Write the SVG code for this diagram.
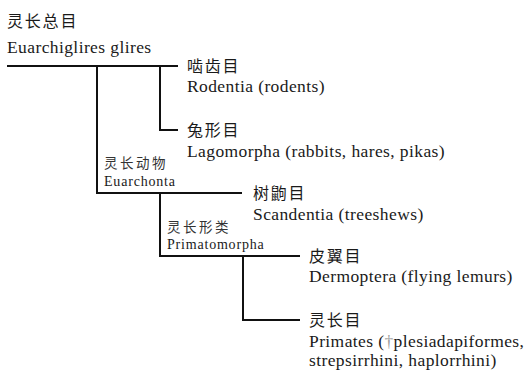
<svg xmlns="http://www.w3.org/2000/svg" width="531" height="380" viewBox="0 0 531 380">
<style>
.t{font-family:"Liberation Serif","Noto Sans CJK SC",serif;font-size:17.5px;letter-spacing:0.4px;fill:#1a1a1a}
.c{font-family:"Noto Sans CJK SC",serif;font-size:16px;letter-spacing:1.8px;fill:#1a1a1a}
.s{font-family:"Liberation Serif","Noto Sans CJK SC",serif;font-size:14px;letter-spacing:0.8px;fill:#1a1a1a}
.sc{font-family:"Noto Sans CJK SC",serif;font-size:13.5px;letter-spacing:2.5px;fill:#333}
.l{stroke:#111;stroke-width:2;fill:none}
</style>
<rect width="531" height="380" fill="#fff"/>
<g id="connectors">
<path class="l" d="M7 66H178M97 66V193H242M160 66V130H178M160 193V256H300M243 256V320H300"/>
</g>
<g id="root"><text class="c" x="7" y="27">灵长总目</text><text class="t" x="7" y="53">Euarchiglires glires</text></g>
<g id="rodentia"><text class="c" x="187" y="72">啮齿目</text><text class="t" x="187" y="92">Rodentia (rodents)</text></g>
<g id="lagomorpha"><text class="c" x="187" y="136">兔形目</text><text class="t" x="187" y="157">Lagomorpha (rabbits, hares, pikas)</text></g>
<g id="euarchonta"><text class="sc" x="104" y="168">灵长动物</text><text class="s" x="104" y="186">Euarchonta</text></g>
<g id="scandentia"><text class="c" x="253" y="199">树鼩目</text><text class="t" x="253" y="220">Scandentia (treeshews)</text></g>
<g id="primatomorpha"><text class="sc" x="167" y="232">灵长形类</text><text class="s" x="167" y="249">Primatomorpha</text></g>
<g id="dermoptera"><text class="c" x="309" y="262">皮翼目</text><text class="t" x="309" y="282">Dermoptera (flying lemurs)</text></g>
<g id="primates"><text class="c" x="309" y="326">灵长目</text><text class="t" x="309" y="347">Primates (<tspan fill="#999">†</tspan>plesiadapiformes,</text><text class="t" x="309" y="366">strepsirrhini, haplorrhini)</text></g>
</svg>
